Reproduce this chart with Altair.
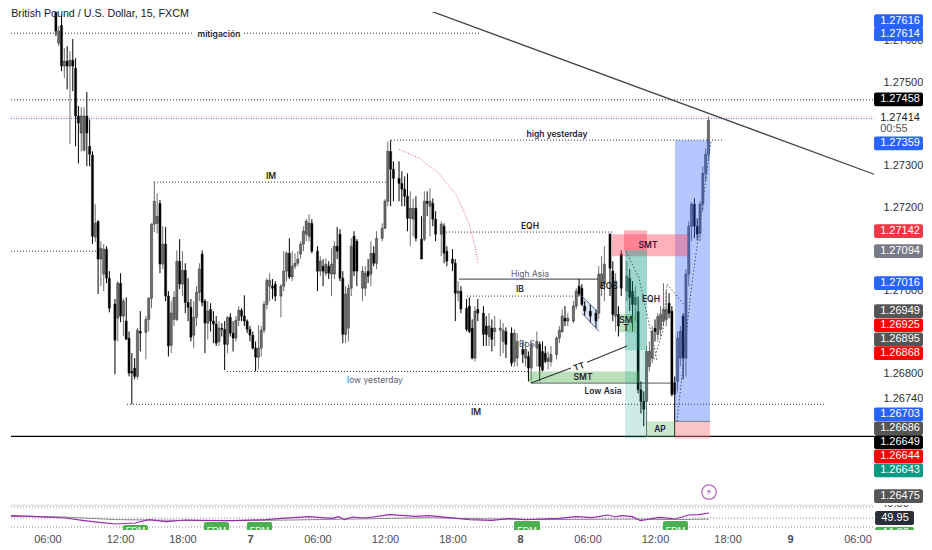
import altair as alt
import pandas as pd

# Prices below are in 0.00001 units above this base
BASE = 1.26
def px(v):
    return BASE + v / 100000.0

# ---- 15 minute candles (bar number = quarter hours since 00:00 of day 6) ----
bars = [24,27,28,29,30,31,32,33,34,35,
        36,37,38,39,40,41,42,43,44,45,
        46,48,49,50,51,52,53,54,55,56,
        57,59,60,61,62,63,64,65,66,67,
        68,69,70,71,72,73,74,75,76,77,
        78,79,80,81,82,83,84,85,86,87,
        88,89,90,91,92,93,94,95,96,97,
        98,99,100,101,102,103,104,105,107,108,
        109,110,111,112,113,114,115,116,117,118,
        120,121,122,123,124,125,126,127,128,129,
        130,131,132,133,134,136,137,138,139,140,
        141,143,144,145,146,147,149,150,151,152,
        153,154,155,157,158,159,160,161,162,164,
        165,166,168,169,170,171,173,174,175,176,
        177,179,180,181,182,183,185,186,187,189,
        190,191,193,194,195,196,198,199,200,201,
        202,203,205,206,207,208,209,211,212,213,
        214,215,217,219,220,221,222,224,225,226,
        227,228,230,231,232,233,234,235,236,237,
        238,239,240,241,242,243,244,245,246,247,
        248,249,250,251,252,253,254,255,256,257,258,259]
opens = [1685,1719,1594,1637,1539,1551,1539,1553,1534,1419,
         1378,1337,1419,1346,1325,1128,1166,1075,1039,1099,
         1029,967,933,1017,938,926,885,805,813,793,
         901,899,930,981,1159,1161,1209,1063,1111,986,
         868,930,930,1070,1015,1048,971,959,892,935,
         995,1087,974,921,954,926,919,877,909,906,
         870,935,897,885,928,952,938,926,906,892,
         861,839,861,904,966,1010,1010,1015,986,1010,
         1046,1089,1032,1058,1065,1087,1111,1135,1130,1161,
         1094,1046,1058,1041,1058,1039,1039,1106,1135,1029,
         894,909,1005,1130,1118,1005,1005,1046,1039,1089,
         1065,1125,1149,1214,1334,1291,1269,1257,1243,1226,
         1173,1171,1197,1123,1123,1214,1202,1209,1171,1135,
         1154,1094,1075,1065,993,998,957,962,909,837,
         954,945,914,889,909,901,904,877,901,897,
         829,837,858,837,841,813,861,870,853,849,
         829,829,846,885,901,933,926,926,962,1010,
         1005,962,950,945,945,1005,1015,1135,1046,938,
         942,1087,998,1029,998,966,949,761,733,733,
         817,837,909,894,906,926,930,969,950,777,
         781,837,938,837,1039,1154,1207,1154,1137,1207,1281,1327]
closes = [1681,1623,1623,1539,1551,1539,1553,1539,1419,1402,
          1419,1419,1378,1327,1130,1161,1075,1101,1099,1029,
          957,880,1017,938,974,882,801,801,793,904,
          897,930,981,1159,1214,1178,1063,1111,986,866,
          945,983,1070,1015,1048,971,959,887,935,995,
          1051,971,921,950,926,919,873,909,906,870,
          935,897,885,928,952,938,926,906,892,861,
          839,861,904,966,1024,1024,1005,986,1010,1046,
          1089,1032,1058,1065,1075,1111,1142,1166,1161,1094,
          1046,1070,1046,1063,1041,1063,1106,1094,1029,894,
          991,1005,1106,1046,1046,1046,1041,1034,1089,1065,
          1125,1149,1214,1334,1291,1269,1257,1243,1226,1173,
          1197,1197,1125,1075,1214,1209,1214,1171,1135,1159,
          1089,1070,1065,993,998,955,906,901,837,950,
          945,894,894,914,882,909,909,904,870,825,
          897,877,846,858,813,870,877,817,808,829,
          837,846,885,904,938,926,933,962,998,991,
          966,950,938,926,1039,1039,1063,1053,942,1022,
          914,1005,1034,983,966,983,761,733,714,853,
          853,901,901,937,942,954,954,945,750,750,
          885,901,837,1039,1154,1207,1154,1135,1207,1281,1327,1408]
highs = [1695,1740,1635,1659,1582,1587,1575,1604,1558,1443,
         1440,1440,1477,1411,1334,1207,1168,1118,1111,1106,
         1046,979,1022,1041,981,983,901,849,837,909,
         950,938,983,1161,1262,1233,1217,1154,1152,998,
         974,998,1096,1123,1094,1065,1029,979,974,1010,
         1065,1096,979,974,969,950,938,926,921,926,
         938,945,926,938,962,957,988,930,914,901,
         877,916,914,974,1029,1041,1027,1022,1015,1094,
         1094,1125,1094,1089,1094,1118,1154,1171,1183,1171,
         1106,1082,1075,1077,1070,1101,1118,1152,1147,1046,
         1010,1015,1125,1142,1123,1058,1058,1075,1118,1106,
         1142,1161,1219,1358,1361,1310,1310,1286,1274,1281,
         1238,1221,1226,1178,1238,1238,1245,1221,1190,1166,
         1161,1106,1099,1075,1022,1010,979,983,930,962,
         979,962,938,945,930,938,930,921,911,911,
         906,897,877,877,853,877,901,877,877,866,
         853,866,889,914,954,962,945,974,1005,1027,
         1015,974,967,954,1058,1082,1106,1137,1070,1041,
         962,1096,1070,1051,1022,1010,985,781,757,866,
         877,914,930,945,962,1017,998,993,962,793,
         901,914,945,1051,1166,1212,1221,1173,1214,1298,1341,1418]
lows = [1676,1611,1587,1527,1510,1483,1351,1479,1346,1305,
        1334,1334,1298,1298,1111,1116,991,1010,998,1017,
        947,798,877,923,890,882,793,726,786,786,
        853,834,901,957,1140,1137,1041,1051,974,841,
        849,914,926,1003,986,945,926,877,861,914,
        974,962,849,882,901,873,866,866,889,808,
        849,889,853,877,914,926,914,897,877,858,
        805,810,841,897,954,974,979,974,935,998,
        1022,1027,1022,1051,1058,1075,1094,1118,1118,1089,
        998,1034,1010,1034,1027,986,1027,1075,1022,873,
        873,877,986,1034,1010,974,986,1017,1010,1058,
        1051,1118,1147,1202,1202,1214,1214,1202,1202,1142,
        1106,1130,1118,1075,1118,1178,1130,1154,1118,1082,
        1065,1058,1046,926,974,945,901,897,834,829,
        926,866,866,866,853,866,841,849,837,817,
        817,817,825,817,781,781,817,781,805,825,
        810,817,834,873,897,914,914,921,954,986,
        962,938,921,909,931,986,974,986,926,901,
        889,986,974,950,901,926,752,704,673,647,
        805,825,877,877,889,914,914,933,745,647,
        757,817,786,793,1010,1118,1125,1120,1118,1190,1262,1310]

# ---- scales ----
T_MIN, T_PANE, T_MAX = 2.76, 79.47, 83.82
x_scale = alt.Scale(domain=[T_MIN, T_MAX], nice=False, zero=False, padding=0)
y_scale = alt.Scale(domain=[1.264911, 1.27669], nice=False, zero=False, padding=0)
r_scale = alt.Scale(domain=[27.2, 74.7], nice=False, zero=False, padding=0)

FONT = "Liberation Sans"
ANN = "Inter"

price_ticks = [1.276, 1.275, 1.273, 1.272, 1.27, 1.268, 1.2674]
y_axis = alt.Axis(
    orient="right", offset=-49, values=price_ticks, format=".5f", title=None, grid=False,
    domain=False, ticks=False, labelPadding=9, labelFont=FONT, labelFontSize=11,
    labelColor="#2a2e39", labelAlign="left", labelOverlap=False)

tick_hours = [6, 12.45, 18, 24, 30, 36, 42, 48, 54, 60, 66.45, 72, 78]
tick_names = ["06:00", "12:00", "18:00", "7", "06:00", "12:00", "18:00", "8", "06:00", "12:00", "18:00", "9", "06:00"]
label_map = ",".join(f"'{h}':'{n}'" for h, n in zip(tick_hours, tick_names))
x_axis = alt.Axis(
    values=tick_hours, labelExpr="{" + label_map + "}[datum.value]", title=None, grid=False,
    domain=False, ticks=False, labelPadding=3, labelFont=FONT, labelFontSize=11, labelColor="#4a4d57",
    labelOverlap=False, labelFlush=False,
    labelFontWeight={"condition": {"test": "datum.value==24||datum.value==48||datum.value==72", "value": "bold"}, "value": "normal"})

def X(f="t"):
    return alt.X(f, type="quantitative", scale=x_scale, axis=None)
def XR(f="t"):
    return alt.X(f, type="quantitative", scale=x_scale, axis=x_axis)
def Y(f="p"):
    return alt.Y(f, type="quantitative", scale=y_scale, axis=y_axis)
def R(f="v"):
    return alt.Y(f, type="quantitative", scale=r_scale, axis=None)

candles = pd.DataFrame({
    "t": [b * 0.25 for b in bars],
    "o": [px(v) for v in opens], "c": [px(v) for v in closes],
    "h": [px(v) for v in highs], "l": [px(v) for v in lows],
    "d": ["up" if c >= o else "down" for o, c in zip(opens, closes)],
})
cc = alt.Color("d:N", scale=alt.Scale(domain=["up", "down"], range=["#6e6e6e", "#000000"]), legend=None)
wicks = alt.Chart(candles).mark_rule(clip=True, strokeWidth=1).encode(
    x=X(), y=Y("h"), y2=alt.Y2("l"), color=cc)
bodies = alt.Chart(candles).mark_bar(clip=True, size=2.2, stroke="#111111", strokeWidth=0.4).encode(
    x=X(), y=Y("o"), y2=alt.Y2("c"), color=cc)

# ---- horizontal levels ----
dot_t1 = [T_MIN, 23.47, T_MIN, 15.47, T_MIN, 36.53, 41.42, 43.29, 21.96, 13.07]
dot_t2 = [19.02, 44.53, T_PANE, 36.53, 10.58, 66.04, 56.18, 53.24, 48.8, 75.02]
dot_p  = [1618, 1618, 1458, 1260, 1094, 1361, 1140, 986, 805, 726]
dots = alt.Chart(pd.DataFrame({"t": dot_t1, "t2": dot_t2, "p": [px(v) for v in dot_p]})).mark_rule(
    strokeDash=[1, 2], color="#333333", strokeWidth=1).encode(x=X(), x2=alt.X2("t2"), y=Y())
last_t1, last_t2 = [T_MIN, T_MIN], [T_PANE, T_PANE]
last_p = [1417, 1413]
last_col = ["#f7c3b0", "#5b7ff0"]
last = alt.Chart(pd.DataFrame({"t": last_t1, "t2": last_t2, "p": [px(v) for v in last_p], "k": last_col})).mark_rule(
    strokeDash=[1, 1.5], strokeWidth=1).encode(x=X(), x2=alt.X2("t2"), y=Y(), color=alt.Color("k:N", scale=None))
solid_t1 = [T_MIN, 42.58, 48.98]
solid_t2 = [T_PANE, 55.02, 61.87]
solid_p  = [649, 1027, 777]
solid_col = ["#000000", "#5d606b", "#787b86"]
solids = alt.Chart(pd.DataFrame({"t": solid_t1, "t2": solid_t2, "p": [px(v) for v in solid_p], "k": solid_col})).mark_rule(
    strokeWidth=1.2).encode(x=X(), x2=alt.X2("t2"), y=Y(), color=alt.Color("k:N", scale=None))

# ---- shaded zones ----
zone_t1 = [61.78, 61.78, 59.29, 48.8, 56.18, 57.24, 57.33, 57.33, 56.8]
zone_t2 = [64.89, 64.89, 61.78, 58.58, 62.93, 59.29, 59.29, 59.29, 58.31]
zone_p1 = [1361, 685, 685, 805, 1135, 1144, 1096, 856, 943]
zone_p2 = [685, 644, 647, 777, 1082, 1096, 856, 644, 899]
zone_col = ["#2962ff", "#f77c80", "#4caf50", "#4caf50", "#ff3d55", "#ff3d55", "#089981", "#089981", "#4caf50"]
zone_op  = [0.35, 0.45, 0.3, 0.38, 0.4, 0.4, 0.4, 0.2, 0.35]
zones = alt.Chart(pd.DataFrame({
    "t": zone_t1, "t2": zone_t2, "p": [px(v) for v in zone_p1], "p2": [px(v) for v in zone_p2],
    "k": zone_col, "a": zone_op})).mark_rect().encode(
    x=X(), x2=alt.X2("t2"), y=Y(), y2=alt.Y2("p2"),
    color=alt.Color("k:N", scale=None), opacity=alt.Opacity("a:Q", scale=None))
zone_edge = alt.Chart(pd.DataFrame({"t": [61.78], "t2": [64.89], "p": [px(685)]})).mark_rule(
    color="#787b86", strokeWidth=1).encode(x=X(), x2=alt.X2("t2"), y=Y())

# ---- flag channel ----
flag_t = [53.51, 55.02]
flag_top = [986, 945]
flag_bot = [945, 901]
flag_df = pd.DataFrame({"t": flag_t, "a": [px(v) for v in flag_top], "b": [px(v) for v in flag_bot]})
flag = alt.Chart(flag_df).mark_area(color="#c5d3f7", opacity=0.6).encode(x=X(), y=Y("a"), y2=alt.Y2("b"))
flag_a = alt.Chart(flag_df).mark_line(color="#5d6a88", strokeWidth=1).encode(x=X(), y=Y("a"))
flag_b = alt.Chart(flag_df).mark_line(color="#5d6a88", strokeWidth=1).encode(x=X(), y=Y("b"))

# ---- sloped drawings ----
trend_t = [37.69, 79.47]
trend_p = [1695, 1279]
trend = alt.Chart(pd.DataFrame({"t": trend_t, "p": [px(v) for v in trend_p]})).mark_line(
    color="#434651", strokeWidth=1.3, clip=True).encode(x=X(), y=Y())
tt_t = [48.98, 52.53, 53.96, 57.51]
tt_p = [777, 813, 827, 866]
tt_g = ["a", "a", "b", "b"]
tt = alt.Chart(pd.DataFrame({"t": tt_t, "p": [px(v) for v in tt_p], "g": tt_g})).mark_line(
    color="#333333", strokeWidth=1.1).encode(x=X(), y=Y(), detail="g:N")
arc_t = [37.24, 39.02, 40.8, 42.4, 43.47, 44.0, 44.27]
arc_p = [1339, 1318, 1281, 1226, 1161, 1106, 1065]
arc = alt.Chart(pd.DataFrame({"t": arc_t, "p": [px(v) for v in arc_p]})).mark_line(
    color="#e8637d", strokeDash=[1, 1.5], strokeWidth=1).encode(x=X(), y=Y())
arc2_t = [2.76, 3.0, 3.64]
arc2_p = [1666, 1675, 1695]
arc2 = alt.Chart(pd.DataFrame({"t": arc2_t, "p": [px(v) for v in arc2_p]})).mark_line(
    color="#9598a1", strokeDash=[1, 1.5], strokeWidth=1, clip=True).encode(x=X(), y=Y())
zig_t = [57.42, 58.58, 59.82, 60.18, 59.91, 60.71, 61.07, 61.07, 62.84, 61.96, 63.2, 64.98]
zig_p = [1094, 1029, 878, 830, 834, 902, 1015, 1015, 957, 685, 998, 1358]
zig_g = ["a", "a", "a", "a", "b", "b", "b", "c", "c", "d", "d", "d"]
zig = alt.Chart(pd.DataFrame({"t": zig_t, "p": [px(v) for v in zig_p], "g": zig_g})).mark_line(
    color="#3f5a66", strokeDash=[1.5, 2], strokeWidth=1).encode(x=X(), y=Y(), detail="g:N")

# ---- annotation text ----
dark_text = ["mitigación", "IM", "high yesterday", "EQH", "IB", "IM", "SMT", "Low Asia", "SMT", "BOS", "EQH", "SM", "T", "AP"]
dark_t = [21.24, 25.87, 51.29, 48.89, 48.0, 44.09, 53.6, 55.38, 59.38, 55.9, 59.64, 57.42, 57.42, 60.44]
dark_p = [1616, 1274, 1375, 1154, 1003, 707, 791, 757, 1108, 1010, 979, 928, 909, 666]
dark = alt.Chart(pd.DataFrame({"t": dark_t, "p": [px(v) for v in dark_p], "s": dark_text})).mark_text(
    font=ANN, fontSize=8.5, fontWeight=600, color="#1f2430").encode(x=X(), y=Y(), text="s:N")
gray_text = ["High Asia", "low yesterday", "BoS"]
gray_t = [48.89, 35.11, 48.62]
gray_p = [1039, 784, 870]
gray = alt.Chart(pd.DataFrame({"t": gray_t, "p": [px(v) for v in gray_p], "s": gray_text})).mark_text(
    font=ANN, fontSize=8.5, color="#5d606b").encode(x=X(), y=Y(), text="s:N")
tt_label = alt.Chart(pd.DataFrame({"t": [53.24], "p": [px(817)], "s": ["TT"]})).mark_text(
    font=ANN, fontSize=8.5, fontWeight=600, angle=340, color="#1f2430").encode(x=X(), y=Y(), text="s:N")
title = alt.Chart(pd.DataFrame({"t": [2.78], "p": [px(1664)], "s": ["British Pound / U.S. Dollar, 15, FXCM"]})).mark_text(
    font=FONT, fontSize=10.7, align="left", color="#131722").encode(x=X(), y=Y(), text="s:N")

# ---- price badges ----
badge_text = ["1.27616", "1.27614", "1.27458", "1.27359", "1.27142", "1.27094", "1.27016", "1.26949", "1.26925",
              "1.26895", "1.26868", "1.26703", "1.26686", "1.26649", "1.26644", "1.26643", "1.26475"]
badge_pos = [1647, 1616, 1459, 1353, 1142, 1094, 1017, 950, 916, 882, 849, 702, 668, 635, 601, 567, 505]
badge_col = ["#2962ff", "#2962ff", "#000000", "#2962ff", "#f23645", "#787b86", "#2962ff", "#555555", "#ff0000",
             "#555555", "#ff0000", "#2962ff", "#555555", "#000000", "#ff0000", "#089981", "#555555"]
HALF = 16.5
badges = pd.DataFrame({
    "t": [T_PANE] * len(badge_text), "t2": [T_MAX] * len(badge_text), "tc": [81.78] * len(badge_text),
    "p": [px(v + HALF) for v in badge_pos], "p2": [px(v - HALF) for v in badge_pos],
    "pc": [px(v) for v in badge_pos], "s": badge_text, "k": badge_col})
badge_rect = alt.Chart(badges).mark_rect(cornerRadius=2).encode(
    x=X(), x2=alt.X2("t2"), y=Y(), y2=alt.Y2("p2"), color=alt.Color("k:N", scale=None))
badge_txt = alt.Chart(badges).mark_text(font=FONT, fontSize=11, color="#ffffff").encode(
    x=X("tc"), y=Y("pc"), text="s:N")
side_text = ["1.27414", "00:55"]
side_p = [1414, 1387]
side_col = ["#131722", "#555555"]
side = alt.Chart(pd.DataFrame({"t": [81.78, 81.24], "p": [px(v) for v in side_p], "s": side_text, "k": side_col})).mark_text(
    font=FONT, fontSize=11).encode(x=X(), y=Y(), text="s:N", color=alt.Color("k:N", scale=None))

# ---- alert icon ----
icon_df = pd.DataFrame({"t": [64.8], "p": [px(515)], "s": ["⚡"]})
ring = alt.Chart(icon_df).mark_point(shape="circle", size=210, color="#9c27b0", strokeWidth=1.3, filled=False).encode(x=X(), y=Y())
bolt = alt.Chart(icon_df).mark_text(font="DejaVu Sans", fontSize=9, color="#9c27b0").encode(x=X(), y=Y(), text="s:N")

price = alt.layer(
    dots, last, solids, flag, wicks, bodies, zones, zone_edge, flag_a, flag_b,
    trend, tt, arc, arc2, zig, dark, gray, tt_label, title,
    ring, bolt, badge_rect, badge_txt, side,
).properties(width=912, height=490)

# ---- RSI pane ----
rsi_t = [2.76,4.65,7.6,9.1,10.6,12,13.8,15,16.5,18.3,19.5,22.4,25.4,26.9,29.2,31.3,31.9,32.4,33.1,34.3,
         36.4,38.7,39.9,41.7,43.5,45.5,47,48.5,51.5,53,54.4,55.8,56.5,57,58,58.7,60.4,61.8,63,63.9,64.8]
rsi_v = [54.4,53.2,50,45.6,41.8,38.6,40.5,46.8,43,46.2,45.6,44.9,46.8,49.4,52.5,49.4,52.5,46.8,51.9,50,
         56.3,53.2,54.4,50.6,46.8,45.6,48.7,46.8,49.4,52.5,50.6,55.7,51.9,54.4,52.5,44.9,51.3,48.1,55.7,56.3,59.5]
ma_t = [2.76,7.3,12,16,22,27,33,40,43,50,58,62,64.8]
ma_v = [53,52,47,46,45,46,48,50.5,49,47,48,47,48]
band_v = [70.9, 50, 32.9]

bands = alt.Chart(pd.DataFrame({"t": [T_MIN] * 3, "t2": [T_PANE] * 3, "v": band_v})).mark_rule(
    strokeDash=[1, 2], color="#8a8d96", strokeWidth=1).encode(x=XR(), x2=alt.X2("t2"), y=R())
border = alt.Chart(pd.DataFrame({"t": [T_MIN], "t2": [T_PANE], "v": [74.4]})).mark_rule(
    color="#d9d9dc", strokeWidth=1).encode(x=XR(), x2=alt.X2("t2"), y=R())
ma_line = alt.Chart(pd.DataFrame({"t": ma_t, "v": ma_v})).mark_line(color="#8a8a8a", strokeWidth=1).encode(x=XR(), y=R())
rsi_line = alt.Chart(pd.DataFrame({"t": rsi_t, "v": rsi_v})).mark_line(color="#9c27b0", strokeWidth=1.2).encode(x=XR(), y=R())

fdm_t1 = [12.71, 19.91, 23.73, 47.47, 60.71]
fdm_t2 = [14.93, 22.13, 25.96, 49.78, 62.93]
fdm_v = [36.7, 42.4, 42.4, 44.3, 44.3]
fdm_df = pd.DataFrame({"t": fdm_t1, "t2": fdm_t2, "v": fdm_v, "v2": [10.0] * 5,
                       "tc": [(a + b) / 2 for a, b in zip(fdm_t1, fdm_t2)], "vc": [27.0] * 5, "s": ["FDM"] * 5})
fdm_rect = alt.Chart(fdm_df).mark_rect(color="#4caf50", cornerRadius=2, clip=True).encode(
    x=XR(), x2=alt.X2("t2"), y=R(), y2=alt.Y2("v2"))
fdm_txt = alt.Chart(fdm_df).mark_text(font=FONT, fontSize=9, color="#ffffff", clip=True).encode(
    x=XR("tc"), y=R("vc"), text="s:N")

rb_t1 = [79.56, 79.56]
rb_t2 = [83.02, 83.02]
rb_v1 = [63.3, 33.0]
rb_v2 = [36.7, 5.0]
rb_col = ["#2a2e39", "#4caf50"]
rb_df = pd.DataFrame({"t": rb_t1, "t2": rb_t2, "v": rb_v1, "v2": rb_v2, "k": rb_col})
rb_rect = alt.Chart(rb_df).mark_rect(cornerRadius=2, clip=True).encode(
    x=XR(), x2=alt.X2("t2"), y=R(), y2=alt.Y2("v2"), color=alt.Color("k:N", scale=None))
rb_text = ["49.95", "49.50", "44.82"]
rb_tv = [50.0, 77.0, 21.0]
rb_tc = ["#ffffff", "#333333", "#ffffff"]
rb_txt = alt.Chart(pd.DataFrame({"t": [81.33] * 3, "v": rb_tv, "s": rb_text, "k": rb_tc})).mark_text(
    font=FONT, fontSize=11, clip=True).encode(x=XR(), y=R(), text="s:N", color=alt.Color("k:N", scale=None))

rsi = alt.layer(bands, border, fdm_rect, fdm_txt, ma_line, rsi_line, rb_rect, rb_txt).properties(width=912, height=25)

chart = alt.vconcat(price, rsi, spacing=0, background="#ffffff",
                    padding={"left": 0, "right": 0, "top": 0, "bottom": 0}).configure_view(stroke=None)
chart.save("out.html", embed_options={"renderer": "svg", "actions": False})
